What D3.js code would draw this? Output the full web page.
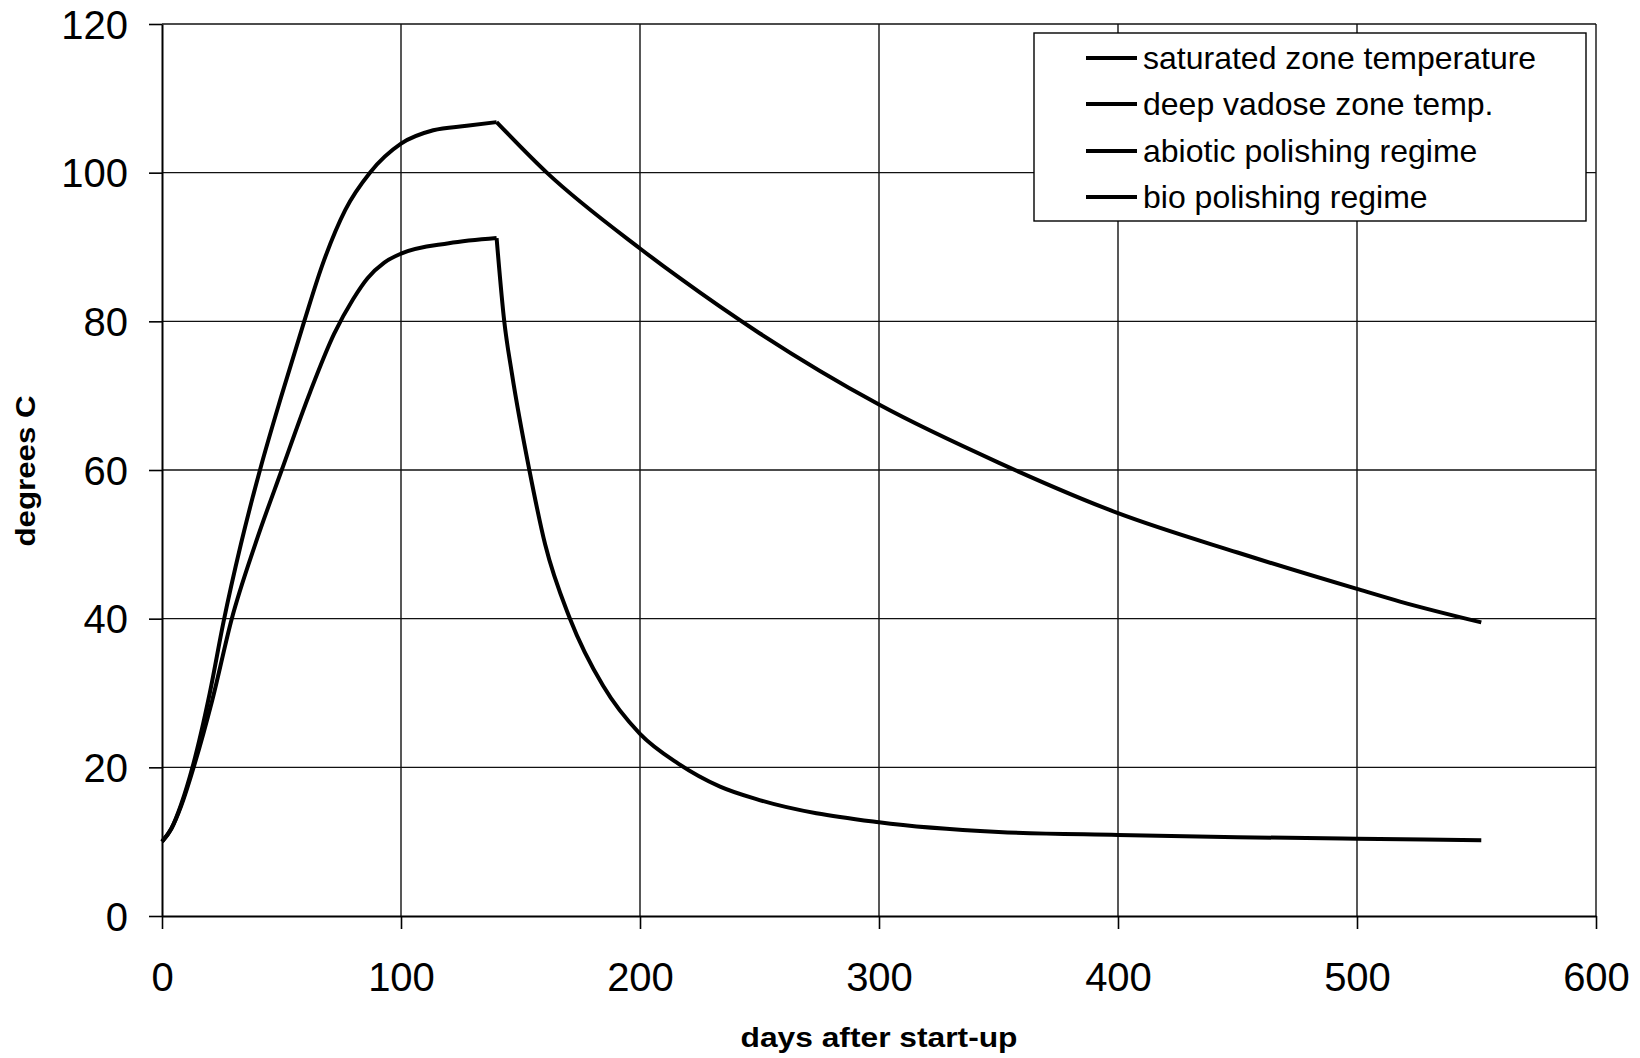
<!DOCTYPE html>
<html>
<head>
<meta charset="utf-8">
<script src="https://cdn.jsdelivr.net/npm/d3@7"></script>
<style>
  html, body { margin: 0; padding: 0; background: #fff; }
  svg { display: block; font-family: Arial, "Liberation Sans", sans-serif; }
</style>
</head>
<body>
<svg id="chart" width="1640" height="1058"></svg>
<script>
// ---- data ----
const xTicks = [0, 100, 200, 300, 400, 500, 600];
const yTicks = [0, 20, 40, 60, 80, 100, 120];
const seriesNames = ["saturated zone temperature", "deep vadose zone temp.", "abiotic polishing regime", "bio polishing regime"];

// saturated zone temperature (heating phase, upper curve)
const saturatedDays = [0, 4, 8, 13, 20, 25.7, 33, 41, 50, 59.5, 67, 76.7, 87, 100, 113.5, 127.5, 140];
const saturatedTemp = [10, 11.8, 15, 20.3, 30, 39.5, 50, 60, 70, 80, 87.5, 95, 100, 103.9, 105.7, 106.3, 106.8];

// deep vadose zone temp. (heating phase, lower curve)
const vadoseDays = [0, 4, 8, 13.7, 21, 29.2, 39, 50.1, 62, 72, 80, 86, 93, 100, 120, 140];
const vadoseTemp = [10, 11.8, 14.8, 20.5, 29, 40, 50, 60, 70.5, 78.3, 83, 85.8, 87.9, 89.1, 90.5, 91.2];

// abiotic polishing regime (cool-down, upper curve)
const abioticDays = [140, 161, 200, 216.7, 250, 300, 350, 400, 450, 500, 518, 552];
const abioticTemp = [106.8, 100, 89.8, 85.8, 78.4, 68.8, 61, 54.2, 48.9, 44, 42.3, 39.5];

// bio polishing regime (cool-down, lower curve)
const bioDays = [140, 143.2, 146.4, 153.7, 160.3, 170.7, 184.5, 200, 216, 233.5, 250, 300, 350, 400, 450, 500, 552];
const bioTemp = [91.2, 80, 73, 60, 50, 40, 31, 24.5, 20.5, 17.4, 15.6, 12.6, 11.3, 10.9, 10.6, 10.4, 10.2];

const xLabel = "days after start-up";
const yLabel = "degrees C";

// ---- layout ----
const W = 1640, H = 1058;
const m = { left: 162, top: 24, right: 44, bottom: 142 };
const pw = W - m.left - m.right;   // 1434
const ph = H - m.top - m.bottom;   // 892

const svg = d3.select("#chart");
svg.append("rect").attr("width", W).attr("height", H).attr("fill", "#fff");

const x = d3.scaleLinear().domain([0, 600]).range([m.left, m.left + pw]);
const y = d3.scaleLinear().domain([0, 120]).range([m.top + ph, m.top]);

// grid
const grid = svg.append("g");
grid.selectAll(".vg").data(xTicks.filter(d => d > 0)).enter().append("line")
  .attr("x1", d => x(d)).attr("x2", d => x(d))
  .attr("y1", y(0)).attr("y2", y(120))
  .attr("stroke", "#111").attr("stroke-width", 1.4);
grid.selectAll(".hg").data(yTicks.filter(d => d > 0)).enter().append("line")
  .attr("x1", x(0)).attr("x2", x(600))
  .attr("y1", d => y(d)).attr("y2", d => y(d))
  .attr("stroke", "#111").attr("stroke-width", 1.4);

// axes
const xAxis = d3.axisBottom(x).tickValues(xTicks).tickSizeInner(13).tickSizeOuter(0).tickPadding(34);
const yAxis = d3.axisLeft(y).tickValues(yTicks).tickSizeInner(13).tickSizeOuter(0).tickPadding(21);

const gx = svg.append("g").attr("transform", `translate(0,${y(0)})`).call(xAxis);
const gy = svg.append("g").attr("transform", `translate(${x(0)},0)`).call(yAxis);
[gx, gy].forEach(g => {
  g.select(".domain").attr("stroke", "#000").attr("stroke-width", 2);
  g.selectAll(".tick line").attr("stroke", "#000").attr("stroke-width", 1.6);
  g.selectAll(".tick text").attr("fill", "#000")
    .style("font-family", "Arial, 'Liberation Sans', sans-serif")
    .style("font-size", "40px");
});
gx.selectAll(".tick text").attr("dy", "0.71em");
gy.selectAll(".tick text").attr("dy", "0.35em");

// axis titles
svg.append("text")
  .attr("x", x(300)).attr("y", 1047)
  .attr("text-anchor", "middle")
  .attr("textLength", 277).attr("lengthAdjust", "spacingAndGlyphs")
  .style("font-size", "28px").style("font-weight", "bold")
  .text(xLabel);
svg.append("text")
  .attr("transform", `translate(35,${471}) rotate(-90)`)
  .attr("text-anchor", "middle")
  .attr("textLength", 151).attr("lengthAdjust", "spacingAndGlyphs")
  .style("font-size", "28px").style("font-weight", "bold")
  .text(yLabel);

// series
const series = [
  { name: seriesNames[0], days: saturatedDays, temp: saturatedTemp },
  { name: seriesNames[1], days: vadoseDays, temp: vadoseTemp },
  { name: seriesNames[2], days: abioticDays, temp: abioticTemp },
  { name: seriesNames[3], days: bioDays, temp: bioTemp }
];
const line = d3.line().x(d => x(d[0])).y(d => y(d[1])).curve(d3.curveMonotoneX);
svg.append("g").selectAll("path").data(series).enter().append("path")
  .attr("d", s => line(s.days.map((d, i) => [d, s.temp[i]])))
  .attr("fill", "none").attr("stroke", "#000").attr("stroke-width", 4)
  .attr("stroke-linejoin", "miter");

// legend
const lg = svg.append("g");
lg.append("rect").attr("x", 1034).attr("y", 33).attr("width", 552).attr("height", 188)
  .attr("fill", "#fff").attr("stroke", "#000").attr("stroke-width", 1.4);
const rowY = [58, 104, 151, 197];
seriesNames.forEach((n, i) => {
  lg.append("line").attr("x1", 1086).attr("x2", 1137)
    .attr("y1", rowY[i]).attr("y2", rowY[i])
    .attr("stroke", "#000").attr("stroke-width", 4);
  lg.append("text").attr("x", 1143).attr("y", rowY[i]).attr("dy", "0.35em")
    .style("font-size", "32px").text(n);
});
</script>
</body>
</html>
